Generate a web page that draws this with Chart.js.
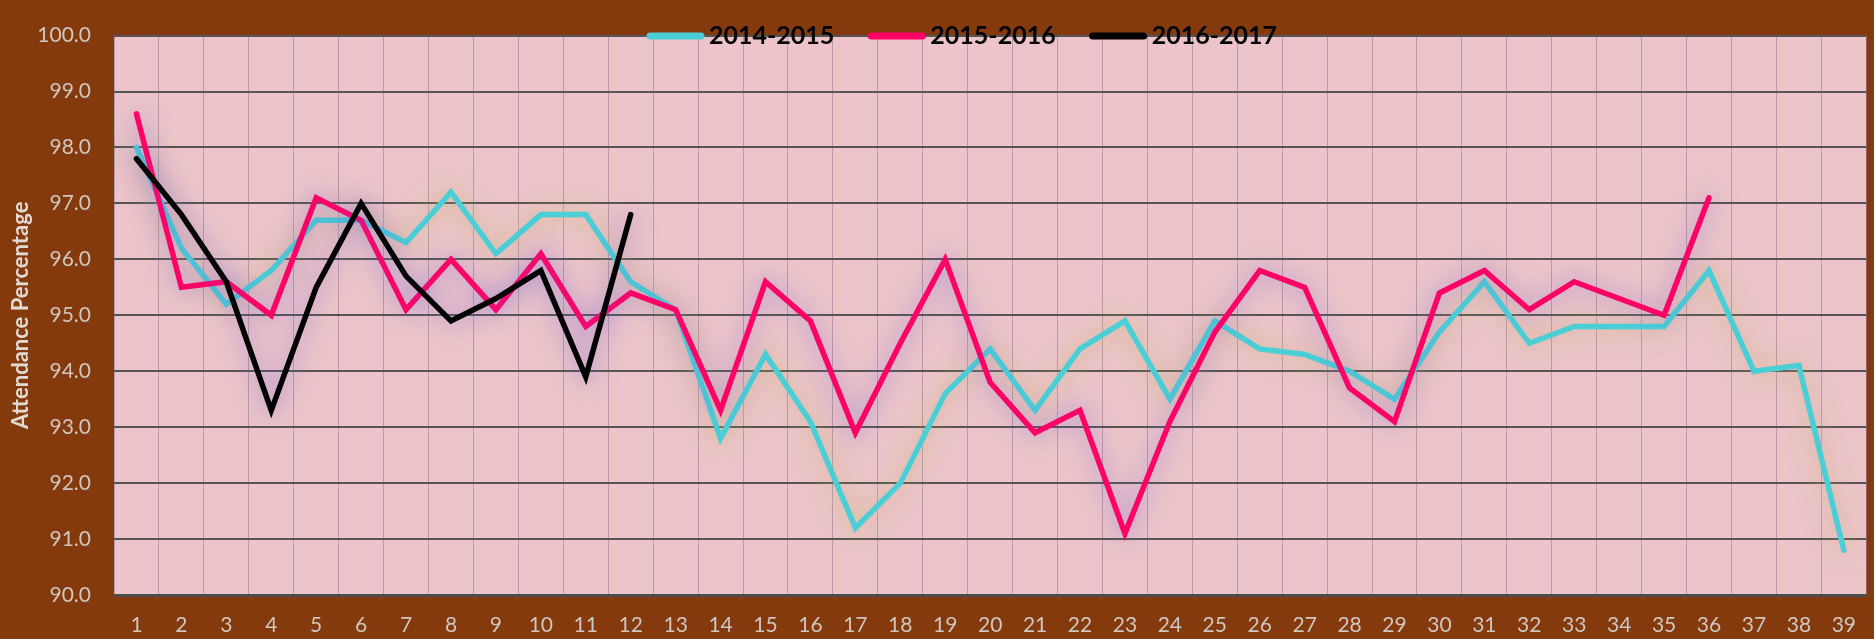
<!DOCTYPE html>
<html>
<head>
<meta charset="utf-8">
<script src="https://cdn.jsdelivr.net/npm/chart.js@4.4.1/dist/chart.umd.min.js"></script>
<style>
  html, body { margin: 0; padding: 0; background: #843a0c; }
  #wrap { width: 1874px; height: 639px; position: relative; }
</style>
</head>
<body>
<div id="wrap"><canvas id="attendanceChart"></canvas></div>
<script>
const weeks = ["1","2","3","4","5","6","7","8","9","10","11","12","13","14","15","16","17","18","19","20",
  "21","22","23","24","25","26","27","28","29","30","31","32","33","34","35","36","37","38","39"];

const year1415 = [98.0, 96.2, 95.2, 95.8, 96.7, 96.7, 96.3, 97.2, 96.1, 96.8, 96.8, 95.6, 95.1, 92.8, 94.3,
  93.1, 91.2, 92.0, 93.6, 94.4, 93.3, 94.4, 94.9, 93.5, 94.9, 94.4, 94.3, 94.0, 93.5, 94.7,
  95.6, 94.5, 94.8, 94.8, 94.8, 95.8, 94.0, 94.1, 90.8];

const year1516 = [98.6, 95.5, 95.6, 95.0, 97.1, 96.7, 95.1, 96.0, 95.1, 96.1, 94.8, 95.4, 95.1, 93.3, 95.6,
  94.9, 92.9, 94.5, 96.0, 93.8, 92.9, 93.3, 91.1, 93.1, 94.7, 95.8, 95.5, 93.7, 93.1, 95.4,
  95.8, 95.1, 95.6, 95.3, 95.0, 97.1, null, null, null];

const year1617 = [97.8, 96.8, 95.6, 93.3, 95.5, 97.0, 95.7, 94.9, 95.3, 95.8, 93.9, 96.8];

const seriesNames = ["2014-2015", "2015-2016", "2016-2017"];
const seriesColors = ["#4acfd7", "#ff0066", "#000000"];
const glowColors = ["rgba(195,180,105,0.85)", "rgba(115,100,210,0.7)", "rgba(115,100,210,0.7)"];

// pink plot background
const plotBg = {
  id: "plotBg",
  beforeDraw(chart) {
    const { ctx, chartArea: a } = chart;
    ctx.save();
    ctx.fillStyle = "#ecc4c9";
    ctx.fillRect(a.left, a.top, a.right - a.left, a.bottom - a.top);
    ctx.restore();
  }
};

// soft glow under each line
const glow = {
  id: "glow",
  beforeDatasetDraw(chart, args) {
    const ctx = chart.ctx;
    ctx.save();
    ctx.shadowColor = glowColors[args.index];
    ctx.shadowBlur = 24;
  },
  afterDatasetDraw(chart) {
    chart.ctx.restore();
  }
};

// legend drawn inside the plot, near the top
const innerLegend = {
  id: "innerLegend",
  afterDraw(chart) {
    const ctx = chart.ctx;
    const sets = chart.data.datasets;
    ctx.save();
    ctx.font = "bold 25px Lato";
    ctx.textBaseline = "middle";
    const lineLen = 57, gap = 5, itemGap = 34;
    let total = 0;
    sets.forEach((ds, i) => {
      total += lineLen + gap + ctx.measureText(ds.label).width;
      if (i < sets.length - 1) total += itemGap;
    });
    let x = 962 - total / 2;
    const y = 36;
    sets.forEach(ds => {
      ctx.strokeStyle = ds.borderColor;
      ctx.lineWidth = 7;
      ctx.lineCap = "round";
      ctx.beginPath();
      ctx.moveTo(x + 3, y);
      ctx.lineTo(x + lineLen - 3, y);
      ctx.stroke();
      x += lineLen + gap;
      ctx.fillStyle = "#000";
      ctx.fillText(ds.label, x, y);
      x += ctx.measureText(ds.label).width + itemGap;
    });
    ctx.restore();
  }
};

new Chart(document.getElementById("attendanceChart"), {
  type: "line",
  data: {
    labels: weeks,
    datasets: [
      { label: seriesNames[0], data: year1415, borderColor: seriesColors[0], order: 3 },
      { label: seriesNames[1], data: year1516, borderColor: seriesColors[1], order: 2 },
      { label: seriesNames[2], data: year1617, borderColor: seriesColors[2], order: 1 }
    ]
  },
  options: {
    responsive: true,
    maintainAspectRatio: false,
    animation: false,
    layout: { padding: { top: 17, right: 1, left: 0, bottom: 0 } },
    elements: {
      line: { borderWidth: 5.5, tension: 0, borderCapStyle: "round", borderJoinStyle: "miter" },
      point: { radius: 0, hoverRadius: 0 }
    },
    plugins: {
      legend: { display: false },
      tooltip: { enabled: false }
    },
    scales: {
      x: {
        offset: true,
        grid: { offset: true, color: "rgba(120,105,140,0.45)", lineWidth: 1, drawTicks: false },
        border: { color: "#4d4d4d", width: 3 },
        ticks: { color: "#cfc6bf", font: { family: "Lato", size: 21 }, padding: 18, maxRotation: 0, autoSkip: false },
        afterFit(scale) { scale.height = 44; }
      },
      y: {
        min: 90,
        max: 100,
        grid: { color: "#555555", lineWidth: 2, drawTicks: false },
        border: { display: false },
        ticks: {
          stepSize: 1,
          color: "#cfc6bf",
          font: { family: "Lato", size: 21 },
          padding: 23,
          callback: v => v.toFixed(1)
        },
        title: {
          display: true,
          text: "Attendance Percentage",
          color: "#e2d9d2",
          font: { family: "Lato", size: 22, weight: "bold" },
          padding: { top: 8, bottom: 0 }
        },
        afterFit(scale) { scale.width = 114; }
      }
    }
  },
  plugins: [plotBg, glow, innerLegend]
});
</script>
</body>
</html>
